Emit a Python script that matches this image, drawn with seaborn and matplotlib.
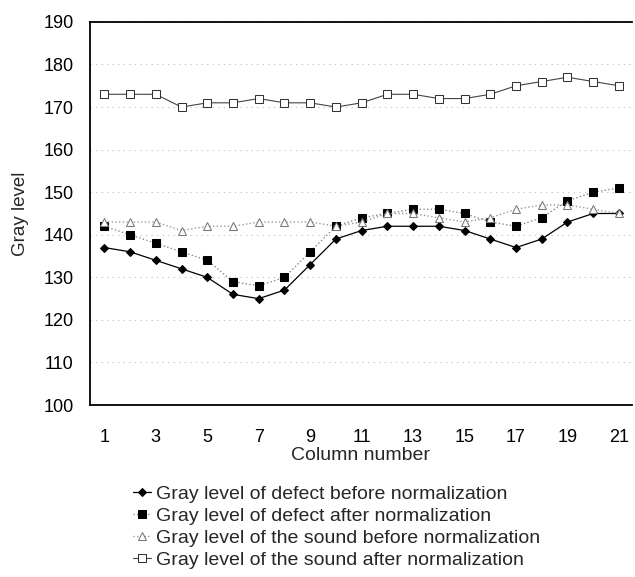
import numpy as np
import matplotlib
matplotlib.use("Agg")
import matplotlib.pyplot as plt
import pandas as pd
import seaborn as sns

columns = list(range(1, 22))
defect_before = [137, 136, 134, 132, 130, 126, 125, 127, 133, 139, 141,
                 142, 142, 142, 141, 139, 137, 139, 143, 145, 145]
defect_after = [142, 140, 138, 136, 134, 129, 128, 130, 136, 142, 144,
                145, 146, 146, 145, 143, 142, 144, 148, 150, 151]
sound_before = [143, 143, 143, 141, 142, 142, 143, 143, 143, 142, 143,
                145, 145, 144, 143, 144, 146, 147, 147, 146, 145]
sound_after = [173, 173, 173, 170, 171, 171, 172, 171, 171, 170, 171,
               173, 173, 172, 172, 173, 175, 176, 177, 176, 175]
labels = ["Gray level of defect before normalization",
          "Gray level of defect after normalization",
          "Gray level of the sound before normalization",
          "Gray level of the sound after normalization"]

sns.set_style("white")
plt.rcParams['font.family'] = ['Liberation Sans', 'DejaVu Sans']

fig = plt.figure(figsize=(6.35, 5.77), dpi=100)
ax = fig.add_axes([0.142, 0.298, 0.853, 0.664])

styles = [
    dict(color="black", linestyle="-", linewidth=0.9, marker="D", markersize=4.5,
         markerfacecolor="black", markeredgecolor="black"),
    dict(color="#888888", linestyle=":", linewidth=1.0, marker="s", markersize=6,
         markerfacecolor="black", markeredgecolor="black"),
    dict(color="#999999", linestyle=":", linewidth=1.0, marker="^", markersize=5.5,
         markerfacecolor="white", markeredgecolor="#777777"),
    dict(color="#444444", linestyle="-", linewidth=0.8, marker="s", markersize=5.5,
         markerfacecolor="white", markeredgecolor="#333333"),
]
series = [defect_before, defect_after, sound_before, sound_after]

for vals, lab, st in zip(series, labels, styles):
    df = pd.DataFrame({"col": columns, "gray": vals})
    sns.lineplot(data=df, x="col", y="gray", ax=ax, label=lab, **st)

ax.set_xlim(0.45, 21.5)
ax.set_ylim(100, 190)
ax.set_xticks(range(1, 22, 2))
ax.set_yticks(range(100, 191, 10))
ax.yaxis.grid(True, color="#bbbbbb", linestyle=(0, (1, 4)), linewidth=0.8)
ax.tick_params(axis="both", labelsize=13, direction="in", length=3, colors="black")
ax.tick_params(axis="x", pad=17)
ax.tick_params(axis="y", pad=12)
ax.set_xlabel("Column number", fontsize=14, labelpad=1)
ax.set_ylabel("Gray level", fontsize=13.5, labelpad=10)

for side in ["left", "bottom", "top"]:
    ax.spines[side].set_color("black")
    ax.spines[side].set_linewidth(1.3)
ax.spines["right"].set_visible(False)

handles, labs = ax.get_legend_handles_labels()
ax.get_legend().remove()
fig.legend(handles, labs, loc="upper left", bbox_to_anchor=(0.21, 0.159),
           frameon=False, fontsize=14, handlelength=0.9, handletextpad=0.25,
           labelspacing=0.22, borderaxespad=0, borderpad=0)

fig.savefig("out.png", dpi=100)
